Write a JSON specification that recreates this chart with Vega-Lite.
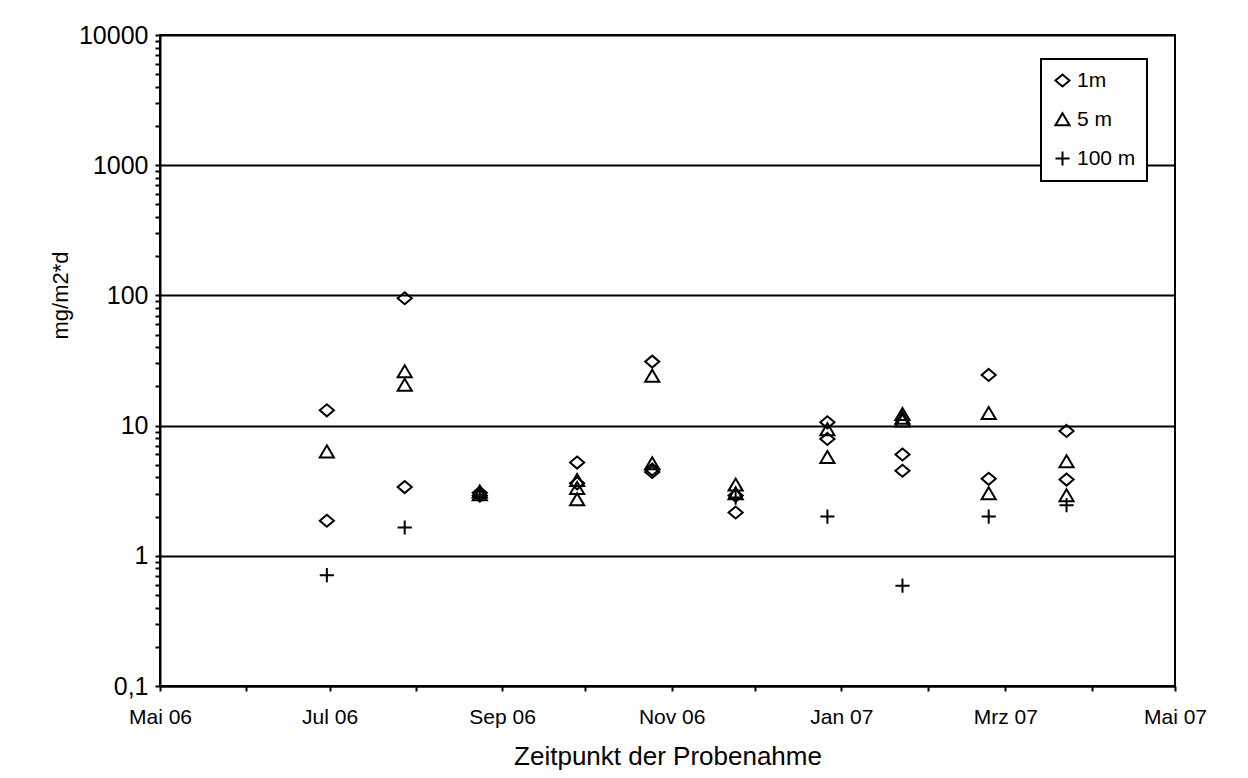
{
  "$schema": "https://vega.github.io/schema/vega-lite/v6.json",
  "autosize": "none",
  "width": 1015,
  "height": 651,
  "padding": {"left": 160, "top": 35, "right": 73, "bottom": 92},
  "background": "white",
  "config": {
    "font": "Liberation Sans",
    "view": {"stroke": "black", "strokeWidth": 2},
    "axis": {"domainColor": "black", "domainWidth": 2, "tickColor": "black", "labelColor": "black", "titleColor": "black", "titleFontWeight": "normal", "labelFont": "Liberation Sans", "titleFont": "Liberation Sans"},
    "legend": {"strokeColor": "black", "strokeWidth": 2, "fillColor": "white"}
  },
  "data": {
    "values": [
      {"date": "2006-06-30", "value": 13.1, "series": "1m"},
      {"date": "2006-06-30", "value": 6.3, "series": "5 m"},
      {"date": "2006-06-30", "value": 1.86, "series": "1m"},
      {"date": "2006-06-30", "value": 0.71, "series": "100 m"},
      {"date": "2006-07-28", "value": 95, "series": "1m"},
      {"date": "2006-07-28", "value": 26, "series": "5 m"},
      {"date": "2006-07-28", "value": 20.5, "series": "5 m"},
      {"date": "2006-07-28", "value": 3.37, "series": "1m"},
      {"date": "2006-07-28", "value": 1.65, "series": "100 m"},
      {"date": "2006-08-24", "value": 2.9, "series": "1m"},
      {"date": "2006-08-24", "value": 3.05, "series": "1m"},
      {"date": "2006-08-24", "value": 3.1, "series": "5 m"},
      {"date": "2006-08-24", "value": 2.95, "series": "5 m"},
      {"date": "2006-08-24", "value": 2.95, "series": "100 m"},
      {"date": "2006-09-28", "value": 5.2, "series": "1m"},
      {"date": "2006-09-28", "value": 3.8, "series": "5 m"},
      {"date": "2006-09-28", "value": 3.6, "series": "1m"},
      {"date": "2006-09-28", "value": 3.3, "series": "5 m"},
      {"date": "2006-09-28", "value": 2.7, "series": "5 m"},
      {"date": "2006-10-25", "value": 31, "series": "1m"},
      {"date": "2006-10-25", "value": 24, "series": "5 m"},
      {"date": "2006-10-25", "value": 5.1, "series": "5 m"},
      {"date": "2006-10-25", "value": 4.6, "series": "1m"},
      {"date": "2006-10-25", "value": 4.4, "series": "1m"},
      {"date": "2006-11-24", "value": 3.5, "series": "5 m"},
      {"date": "2006-11-24", "value": 3.0, "series": "5 m"},
      {"date": "2006-11-24", "value": 2.9, "series": "1m"},
      {"date": "2006-11-24", "value": 2.15, "series": "1m"},
      {"date": "2006-11-24", "value": 2.8, "series": "100 m"},
      {"date": "2006-12-27", "value": 10.6, "series": "1m"},
      {"date": "2006-12-27", "value": 9.3, "series": "5 m"},
      {"date": "2006-12-27", "value": 7.9, "series": "1m"},
      {"date": "2006-12-27", "value": 5.7, "series": "5 m"},
      {"date": "2006-12-27", "value": 2.0, "series": "100 m"},
      {"date": "2007-01-23", "value": 12.2, "series": "5 m"},
      {"date": "2007-01-23", "value": 11.4, "series": "5 m"},
      {"date": "2007-01-23", "value": 10.9, "series": "5 m"},
      {"date": "2007-01-23", "value": 6.0, "series": "1m"},
      {"date": "2007-01-23", "value": 4.5, "series": "1m"},
      {"date": "2007-01-23", "value": 0.59, "series": "100 m"},
      {"date": "2007-02-23", "value": 24.5, "series": "1m"},
      {"date": "2007-02-23", "value": 12.4, "series": "5 m"},
      {"date": "2007-02-23", "value": 3.9, "series": "1m"},
      {"date": "2007-02-23", "value": 3.0, "series": "5 m"},
      {"date": "2007-02-23", "value": 2.0, "series": "100 m"},
      {"date": "2007-03-23", "value": 9.1, "series": "1m"},
      {"date": "2007-03-23", "value": 5.3, "series": "5 m"},
      {"date": "2007-03-23", "value": 3.85, "series": "1m"},
      {"date": "2007-03-23", "value": 2.9, "series": "5 m"},
      {"date": "2007-03-23", "value": 2.45, "series": "100 m"}
    ]
  },
  "mark": {"type": "point", "filled": false, "color": "black", "strokeWidth": 2, "size": 200, "opacity": 1},
  "encoding": {
    "x": {
      "field": "date", "type": "temporal",
      "scale": {"type": "utc", "domain": [{"year": 2006, "month": 5, "date": 1, "utc": true}, {"year": 2007, "month": 5, "date": 1, "utc": true}], "nice": false},
      "axis": {
        "title": "Zeitpunkt der Probenahme",
        "titleFontSize": 26,
        "titlePadding": 16,
        "labelFontSize": 21,
        "labelPadding": 15,
        "tickSize": 5,
        "tickWidth": 2,
        "grid": false,
        "labelOverlap": false,
        "labelFlush": false,
        "labelBound": false,
        "values": [
          {"year": 2006, "month": 5, "date": 1, "utc": true},
          {"year": 2006, "month": 6, "date": 1, "utc": true},
          {"year": 2006, "month": 7, "date": 1, "utc": true},
          {"year": 2006, "month": 8, "date": 1, "utc": true},
          {"year": 2006, "month": 9, "date": 1, "utc": true},
          {"year": 2006, "month": 10, "date": 1, "utc": true},
          {"year": 2006, "month": 11, "date": 1, "utc": true},
          {"year": 2006, "month": 12, "date": 1, "utc": true},
          {"year": 2007, "month": 1, "date": 1, "utc": true},
          {"year": 2007, "month": 2, "date": 1, "utc": true},
          {"year": 2007, "month": 3, "date": 1, "utc": true},
          {"year": 2007, "month": 4, "date": 1, "utc": true},
          {"year": 2007, "month": 5, "date": 1, "utc": true}
        ],
        "labelExpr": "utcmonth(datum.value) % 2 == 0 ? (['Jan','Feb','Mrz','Apr','Mai','Jun','Jul','Aug','Sep','Okt','Nov','Dez'][utcmonth(datum.value)] + ' ' + utcFormat(datum.value, '%y')) : ''"
      }
    },
    "y": {
      "field": "value", "type": "quantitative",
      "scale": {"type": "log", "domain": [0.1, 10000], "nice": false},
      "axis": {
        "title": "mg/m2*d",
        "titleFontSize": 22,
        "titleX": -88,
        "titleY": 260,
        "labelFontSize": 25,
        "labelPadding": 7,
        "tickWidth": 2,
        "tickSize": 5,
        "grid": true,
        "gridColor": "black",
        "gridWidth": 2,
        "gridOpacity": {"condition": {"test": "abs(log(datum.value)/LN10 - round(log(datum.value)/LN10)) < 0.000001", "value": 1}, "value": 0},
        "labelOverlap": false,
        "labelFlush": false,
        "values": [0.1,0.2,0.3,0.4,0.5,0.6,0.7,0.8,0.9,1,2,3,4,5,6,7,8,9,10,20,30,40,50,60,70,80,90,100,200,300,400,500,600,700,800,900,1000,2000,3000,4000,5000,6000,7000,8000,9000,10000],
        "labelExpr": "abs(log(datum.value)/LN10 - round(log(datum.value)/LN10)) < 0.000001 ? (datum.value < 1 ? '0,1' : format(datum.value, 'd')) : ''"
      }
    },
    "shape": {
      "field": "series", "type": "nominal",
      "scale": {"domain": ["1m", "5 m", "100 m"], "range": ["M0,-0.85L1,0L0,0.85L-1,0Z", "M0,-0.9L1,0.8L-1,0.8Z", "M-1,0H1M0,-1V1"]},
      "legend": {
        "title": null,
        "orient": "none",
        "legendX": 881,
        "legendY": 24,
        "padding": 11,
        "labelFontSize": 21,
        "labelFont": "Liberation Sans",
        "labelColor": "black",
        "rowPadding": 17,
        "symbolSize": 200,
        "symbolStrokeWidth": 2,
        "symbolStrokeColor": "black",
        "labelOffset": 4
      }
    }
  }
}
